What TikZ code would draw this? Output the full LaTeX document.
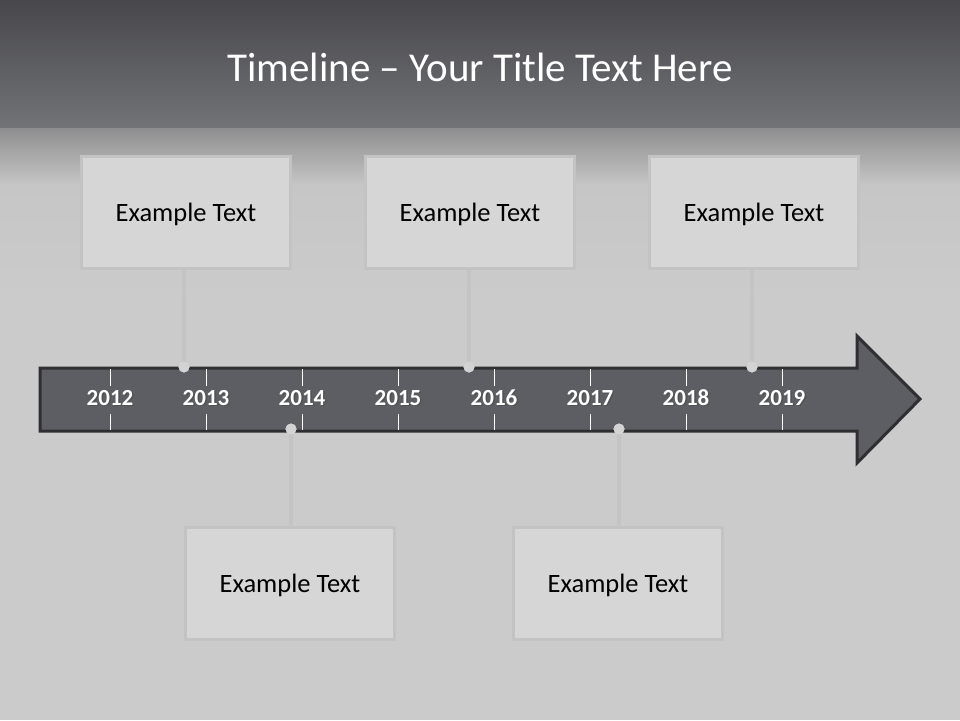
\documentclass[tikz,border=0pt]{standalone}
\usepackage{fontspec}
\setmainfont{Carlito}
\definecolor{bgA}{HTML}{48484C}
\definecolor{bgB}{HTML}{727377}
\definecolor{bgC}{HTML}{8E8E90}
\definecolor{bgD}{HTML}{C6C6C6}
\definecolor{bgE}{HTML}{CBCBCB}
\definecolor{arrfill}{HTML}{5D5E63}
\definecolor{arrline}{HTML}{2F2F32}
\definecolor{boxfill}{HTML}{D6D6D6}
\definecolor{boxline}{HTML}{C3C3C3}
\definecolor{conn}{HTML}{C4C4C4}
\definecolor{dotc}{HTML}{D3D3D3}
\tikzset{
  x=1pt,y=-1pt,
  txtbox/.style={draw=boxline,line width=3pt,fill=boxfill,minimum width=209pt,minimum height=112pt,inner sep=0pt,font=\fontsize{26.5}{30}\selectfont,text=black},
  boxtext/.style={font=\fontsize{26.5}{30}\selectfont,text=black,inner sep=0pt},
  yearlbl/.style={font=\bfseries\fontsize{23}{26}\selectfont,text=white,inner sep=0pt,anchor=base},
  yearshadow/.style={font=\bfseries\fontsize{23}{26}\selectfont,text=black!70,inner sep=0pt,opacity=0.6,anchor=base},
  tickln/.style={white,line width=1pt},
  connln/.style={conn,line width=4pt},
  dotnode/.style={circle,fill=dotc,minimum size=11pt,inner sep=0pt},
}
\begin{document}
\begin{tikzpicture}
\useasboundingbox (0,0) rectangle (960,720);
% background
\fill[bgE] (0,0) rectangle (960,720);
\shade[top color=bgA,bottom color=bgB] (0,0) rectangle (960,128);
\shade[top color=bgC,bottom color=bgD] (0,128) rectangle (960,185);
\shade[top color=bgD,bottom color=bgE] (0,185) rectangle (960,300);
% title
\node[text=white,font=\fontsize{41}{46}\selectfont,inner sep=0pt] (title) at (480,67) {Timeline – Your Title Text Here};
% arrow
\draw[arrline,line width=3pt,fill=arrfill,line join=miter]
  (40,368) -- (857,368) -- (857,336) -- (920,399) -- (857,463) -- (857,431) -- (40,431) -- cycle;
% ticks and years
\foreach \i/\yr in {0/2012,1/2013,2/2014,3/2015,4/2016,5/2017,6/2018,7/2019}{
  \pgfmathsetmacro{\xx}{110+96*\i}
  \draw[tickln] (\xx,369) -- (\xx,386);
  \draw[tickln] (\xx,414) -- (\xx,430);
  \node[yearshadow] at (\xx+1.5,406.5) {\yr};
  \node[yearlbl] (y\yr) at (\xx,405) {\yr};
}
% boxes
\node[txtbox] (b1) at (186,212) {};
\node[txtbox] (b2) at (470,212) {};
\node[txtbox] (b3) at (754,212) {};
\node[txtbox] (b4) at (290,583) {};
\node[txtbox] (b5) at (618,583) {};
\foreach \b in {b1,b2,b3,b4,b5}{
  \node[boxtext] at ([yshift=-2pt]\b.center) {Example Text};
}
% dots
\node[dotnode] (d1) at (184,367) {};
\node[dotnode] (d2) at (469,367) {};
\node[dotnode] (d3) at (752,367) {};
\node[dotnode] (d4) at (291,429) {};
\node[dotnode] (d5) at (619,429) {};
% connectors
\draw[connln] (b1.south -| d1) -- (d1.center);
\draw[connln] (b2.south -| d2) -- (d2.center);
\draw[connln] (b3.south -| d3) -- (d3.center);
\draw[connln] (d4.center) -- (b4.north -| d4);
\draw[connln] (d5.center) -- (b5.north -| d5);
\node[dotnode] at (d1) {};
\node[dotnode] at (d2) {};
\node[dotnode] at (d3) {};
\node[dotnode] at (d4) {};
\node[dotnode] at (d5) {};
\end{tikzpicture}
\end{document}
